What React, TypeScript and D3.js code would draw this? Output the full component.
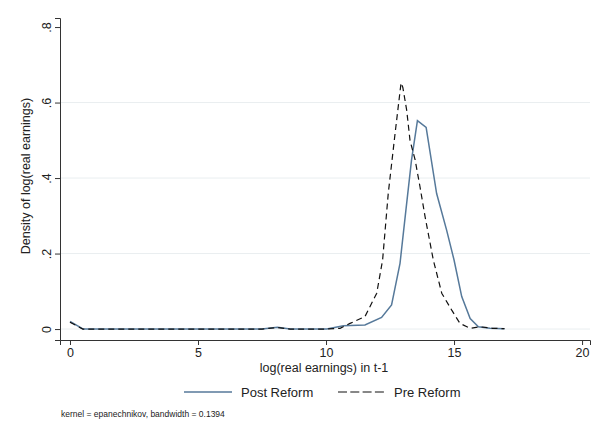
import * as d3 from "d3";
import { useEffect, useRef } from "react";

// kernel density estimates
const postX = [0, 0.52, 1, 7.5, 8.1, 8.6, 10.03, 10.68, 11.52, 12.17, 12.56, 12.89, 13.12, 13.34, 13.57, 13.91, 14.32, 14.71, 15.0, 15.3, 15.63, 15.95, 16.4, 16.97];
const postY = [0.02, 0, 0, 0, 0.005, 0, 0, 0.009, 0.011, 0.031, 0.064, 0.174, 0.315, 0.448, 0.552, 0.534, 0.359, 0.262, 0.183, 0.086, 0.028, 0.006, 0.002, 0.001];

const preX = [0, 0.5, 1, 7.5, 8.1, 8.6, 10, 10.55, 10.94, 11.52, 11.98, 12.21, 12.43, 12.7, 12.93, 13.0, 13.15, 13.28, 13.48, 13.67, 13.87, 14.19, 14.52, 14.91, 15.23, 15.63, 16.0, 16.5, 16.97];
const preY = [0.018, 0, 0, 0, 0.004, 0, 0, 0.002, 0.015, 0.033, 0.095, 0.183, 0.359, 0.52, 0.652, 0.64, 0.58, 0.5, 0.448, 0.377, 0.297, 0.183, 0.095, 0.05, 0.015, 0.002, 0.006, 0.002, 0.001];

const xTicks = [0, 5, 10, 15, 20];
const yTicks = [0, 0.2, 0.4, 0.6, 0.8];
const gridTicks = [0, 0.2, 0.4, 0.6];
const seriesNames = ["Post Reform", "Pre Reform"];

const width = 599;
const height = 435;
const font = "'Liberation Sans', Arial, sans-serif";
const postColor = "#56799a";

export default function App() {
  const svgRef = useRef(null);

  useEffect(() => {
    const svg = d3.select(svgRef.current);
    svg.selectAll("*").remove();

    const x = d3.scaleLinear().domain([-0.39, 20.31]).range([60, 590]);
    const y = d3.scaleLinear().domain([-0.029, 0.824]).range([340, 18]);

    // grid
    svg
      .append("g")
      .selectAll("line")
      .data(gridTicks)
      .enter()
      .append("line")
      .attr("x1", 60)
      .attr("x2", 590)
      .attr("y1", (d) => y(d))
      .attr("y2", (d) => y(d))
      .attr("stroke", "#e9eef0")
      .attr("stroke-width", 1);

    const line = d3
      .line<[number, number]>()
      .x((d) => x(d[0]))
      .y((d) => y(d[1]));

    svg
      .append("path")
      .datum(postX.map((v, i) => [v, postY[i]] as [number, number]))
      .attr("d", line)
      .attr("fill", "none")
      .attr("stroke", postColor)
      .attr("stroke-width", 1.5);

    svg
      .append("path")
      .datum(preX.map((v, i) => [v, preY[i]] as [number, number]))
      .attr("d", line)
      .attr("fill", "none")
      .attr("stroke", "#111")
      .attr("stroke-width", 1.2)
      .attr("stroke-dasharray", "6,4");

    // axes
    const xAxis = svg
      .append("g")
      .attr("transform", "translate(0,340)")
      .call(d3.axisBottom(x).tickValues(xTicks).tickSizeOuter(0).tickSize(5).tickPadding(3));
    xAxis.selectAll("text").attr("font-size", 12.5).attr("font-family", font).attr("fill", "#222");

    const yAxis = svg
      .append("g")
      .attr("transform", "translate(60,0)")
      .call(
        d3
          .axisLeft(y)
          .tickValues(yTicks)
          .tickSizeOuter(0)
          .tickSize(5)
          .tickFormat((d) => (d === 0 ? "0" : d3.format(".1f")(d as number).replace(/^0/, ""))),
      );
    yAxis
      .selectAll("text")
      .attr("transform", "rotate(-90)")
      .attr("x", 0)
      .attr("y", -9)
      .attr("dy", 0)
      .attr("text-anchor", "middle")
      .attr("font-size", 12.5)
      .attr("font-family", font)
      .attr("fill", "#222");

    svg.selectAll(".domain, .tick line").attr("stroke", "#333");

    svg
      .append("text")
      .attr("transform", "translate(30,176) rotate(-90)")
      .attr("text-anchor", "middle")
      .attr("font-size", 12.5)
      .attr("font-family", font)
      .attr("fill", "#222")
      .text("Density of log(real earnings)");

    svg
      .append("text")
      .attr("x", 324)
      .attr("y", 372)
      .attr("text-anchor", "middle")
      .attr("font-size", 12.5)
      .attr("font-family", font)
      .attr("fill", "#222")
      .text("log(real earnings) in t-1");

    // legend
    const legend = svg.append("g").attr("transform", "translate(0,392)");
    legend
      .append("line")
      .attr("x1", 184)
      .attr("x2", 232)
      .attr("stroke", postColor)
      .attr("stroke-width", 1.5);
    legend
      .append("line")
      .attr("x1", 338)
      .attr("x2", 384)
      .attr("stroke", "#111")
      .attr("stroke-width", 1.2)
      .attr("stroke-dasharray", "9,3.3");
    legend
      .selectAll("text")
      .data(seriesNames)
      .enter()
      .append("text")
      .attr("x", (_, i) => (i === 0 ? 241 : 394))
      .attr("y", 5)
      .attr("font-size", 13)
      .attr("font-family", font)
      .attr("fill", "#222")
      .text((d) => d);

    svg
      .append("text")
      .attr("x", 61)
      .attr("y", 417)
      .attr("font-size", 8.5)
      .attr("font-family", font)
      .attr("fill", "#222")
      .text("kernel = epanechnikov, bandwidth = 0.1394");
  }, []);

  return (
    <svg
      ref={svgRef}
      width={width}
      height={height}
      style={{ position: "absolute", left: 0, top: 0, background: "#fff" }}
    ></svg>
  );
}
